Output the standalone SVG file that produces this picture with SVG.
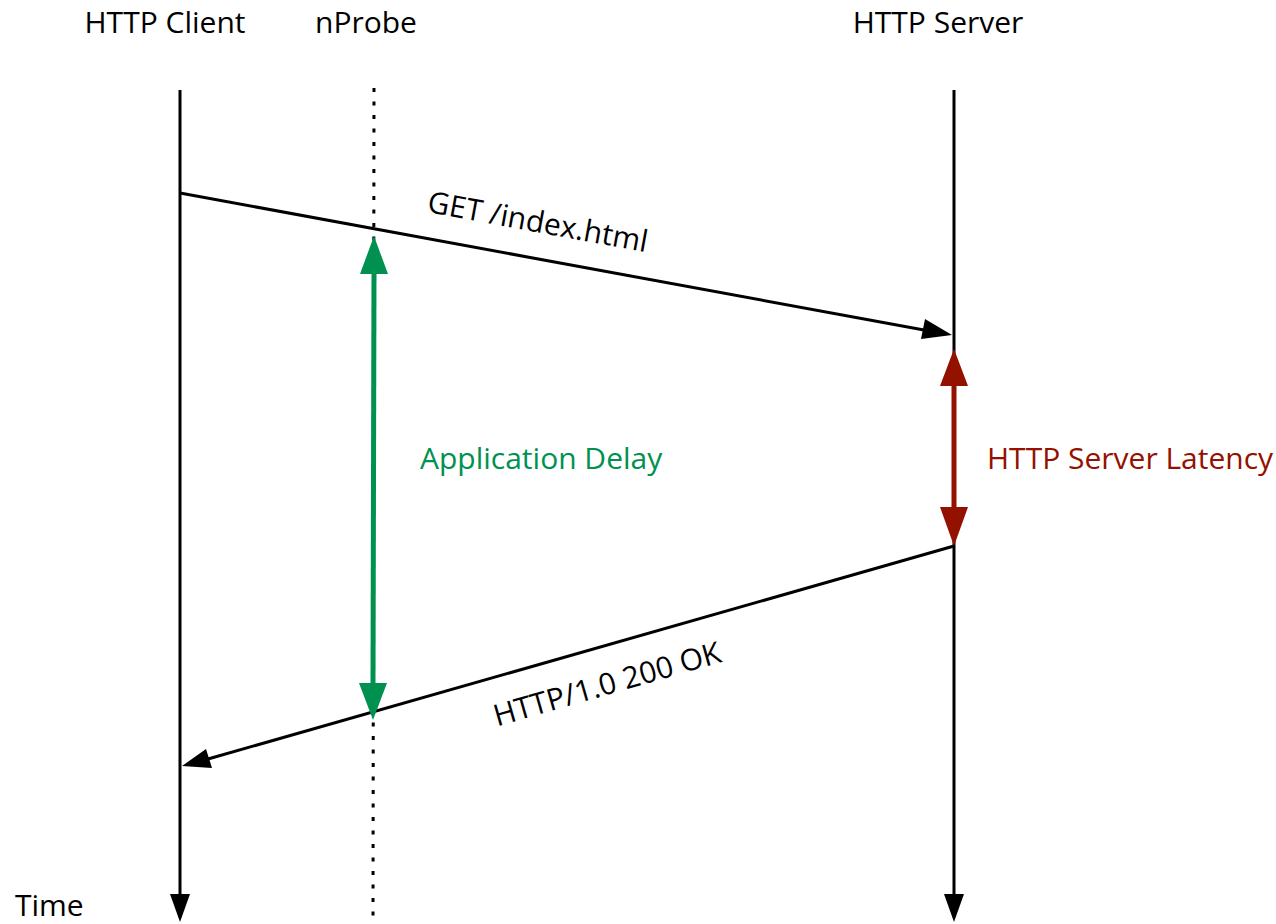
<svg xmlns="http://www.w3.org/2000/svg" width="1276" height="924" viewBox="0 0 1276 924">
<style>
text{font-family:"Open Sans","Liberation Sans",sans-serif;font-size:30px;fill:#000}
.life{stroke:#000;stroke-width:3;fill:none}
.msg{stroke:#000;stroke-width:3;fill:none}
.dot{stroke:#000;stroke-width:3;stroke-dasharray:4 9.5;fill:none}
.green{fill:#009150}
.red{fill:#941100}
</style>
<defs>
<marker id="ah" viewBox="0 0 10 10" refX="10" refY="5" markerWidth="10" markerHeight="7" markerUnits="userSpaceOnUse" orient="auto" overflow="visible">
<path d="M0,0 L10,5 L0,10 Z" fill="#000" transform="scale(3,2)" />
</marker>
</defs>
<rect width="1276" height="924" fill="#fff"/>
<g id="client">
<text x="165" y="33" text-anchor="middle">HTTP Client</text>
<line class="life" x1="180" y1="90" x2="180" y2="896"/>
<polygon points="170,894 190,894 180,922" fill="#000"/>
</g>
<g id="nprobe">
<text x="366" y="33" text-anchor="middle">nProbe</text>
<line class="dot" x1="374" y1="88" x2="373" y2="924"/>
</g>
<g id="server">
<text x="938" y="33" text-anchor="middle">HTTP Server</text>
<line class="life" x1="954" y1="90" x2="954" y2="896"/>
<polygon points="944,894 964,894 954,922" fill="#000"/>
</g>
<g id="time">
<text x="15" y="916">Time</text>
</g>
<g id="connectors">
<line class="msg" x1="180" y1="193" x2="924" y2="330"/>
<polygon points="952,335 921,339 925,319" fill="#000" transform="rotate(0)"/>
<text transform="translate(536,232) rotate(10.4)" text-anchor="middle">GET /index.html</text>
<line class="msg" x1="954" y1="546" x2="208" y2="759"/>
<polygon points="182,766 206,749 212,768" fill="#000"/>
<text transform="translate(610,694) rotate(-16)" text-anchor="middle">HTTP/1.0 200 OK</text>
<g id="app-delay">
<line x1="374" y1="268" x2="373" y2="688" stroke="#009150" stroke-width="5"/>
<polygon class="green" points="374,236 360,274 388,274"/>
<polygon class="green" points="373,720 359,683 387,683"/>
<text x="420" y="469" style="fill:#009150">Application Delay</text>
</g>
<g id="latency">
<line x1="954" y1="380" x2="954" y2="515" stroke="#941100" stroke-width="5"/>
<polygon class="red" points="954,349 940,386 968,386"/>
<polygon class="red" points="954,546 940,507 968,507"/>
<text x="987" y="469" style="fill:#941100">HTTP Server Latency</text>
</g>
</g>
</svg>
